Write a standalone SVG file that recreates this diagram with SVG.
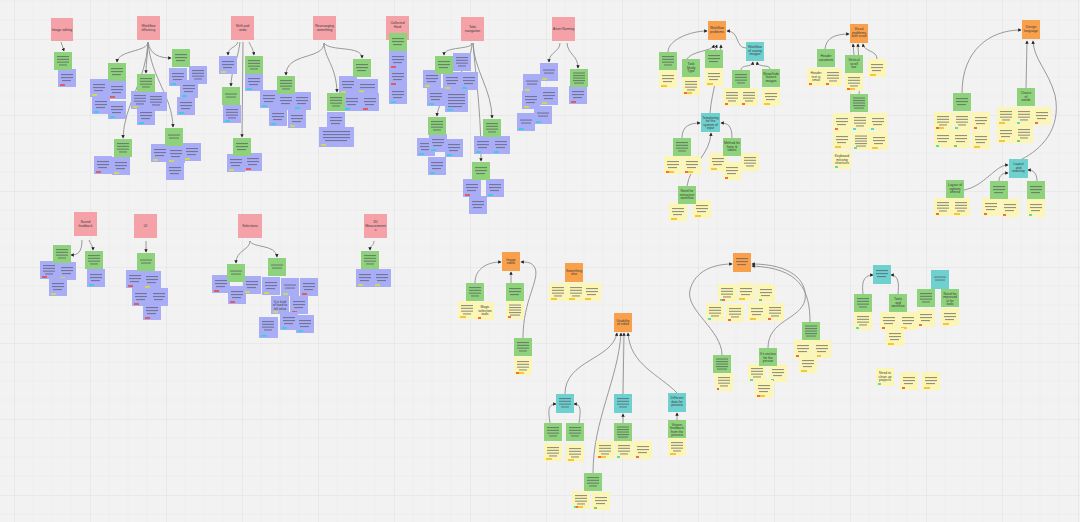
<svg xmlns="http://www.w3.org/2000/svg" xmlns:xlink="http://www.w3.org/1999/xlink" width="1080" height="522" viewBox="0 0 1080 522">
<style>
.pk{fill:#f4a1a8}.gr{fill:#8fd27c}.pu{fill:#a9adf6}.ye{fill:#fcf6b6}.or{fill:#f8a04c}.te{fill:#6fd0d0}
.pk,.gr,.pu,.ye,.or,.te{filter:drop-shadow(0 0.6px 0.7px rgba(0,0,0,.3))}
.bar{fill:#4d4d5c;opacity:.6}
.tr{fill:#ea4b37}.tl{fill:#d5e23b}.tc{fill:#2bd2e2}.to{fill:#f4b81c}.tg{fill:#5cc45c}.tp{fill:#a048c0}
.lb{font-family:"Liberation Sans",Arial,sans-serif;font-size:3.4px;fill:#3a3a3a;text-anchor:middle}
.cn path{fill:none;stroke:#8e8e8e;stroke-width:0.9}
.cn path.a{marker-end:url(#ah)}
</style>
<defs>
<pattern id="grid" patternUnits="userSpaceOnUse" x="14" y="39" width="76" height="76">
<rect width="76" height="76" fill="#f2f2f2"/>
<path d="M19,0V76M38,0V76M57,0V76M0,19H76M0,38H76M0,57H76" stroke="#ebebeb" stroke-width="0.6"/>
<path d="M0,0V76M0,0H76" stroke="#dedede" stroke-width="0.9"/>
</pattern>
<marker id="ah" viewBox="0 0 6 6" refX="5" refY="3" markerWidth="3.4" markerHeight="3.4" markerUnits="userSpaceOnUse" orient="auto"><path d="M0,0L6,3L0,6z" fill="#222"/></marker>
<g id="b2"><rect class="bar" x="3" y="6.5" width="12" height="1.1"/><rect class="bar" x="4" y="9.5" width="10" height="1.1"/></g>
<g id="b3"><rect class="bar" x="3" y="5" width="12" height="1.1"/><rect class="bar" x="3" y="8" width="12" height="1.1"/><rect class="bar" x="4" y="11" width="9" height="1.1"/></g>
<g id="b4"><rect class="bar" x="3" y="4" width="12" height="1.1"/><rect class="bar" x="3" y="6.8" width="12" height="1.1"/><rect class="bar" x="3" y="9.6" width="12" height="1.1"/><rect class="bar" x="5" y="12.4" width="8" height="1.1"/></g>
<g id="b5"><rect class="bar" x="3" y="3.5" width="12" height="1.1"/><rect class="bar" x="3" y="6" width="12" height="1.1"/><rect class="bar" x="3" y="8.5" width="12" height="1.1"/><rect class="bar" x="3" y="11" width="12" height="1.1"/><rect class="bar" x="4" y="13.5" width="10" height="1.1"/></g>
<rect id="S" width="18" height="18"/>
</defs>
<rect width="1080" height="522" fill="url(#grid)"/>

<g id="connectors" class="cn">
<path class="a" d="M61,42L64,51"/>
<path class="a" d="M148,42C148,52 118,50 117,62"/>
<path class="a" d="M148,42C148,55 146,60 146,73"/>
<path class="a" d="M148,42C150,55 160,58 171,58"/>
<path class="a" d="M148,43C146,80 124,105 123,138"/>
<path class="a" d="M148,43C152,80 172,95 173,127"/>
<path class="a" d="M238,42C236,48 228,47 228,55"/>
<path class="a" d="M240,42C238,60 231,70 231,86"/>
<path class="a" d="M249,42C251,47 253,48 254,55"/>
<path class="a" d="M243,42L242,137"/>
<path class="a" d="M324,43C324,60 286,52 286,75"/>
<path class="a" d="M324,43C325,60 336,65 337,92"/>
<path class="a" d="M324,43C330,52 362,45 362,58"/>
<path class="a" d="M472,43C472,50 444,46 444,55"/>
<path class="a" d="M472,43C472,70 438,95 437,116"/>
<path class="a" d="M473,43C474,70 492,90 492,118"/>
<path class="a" d="M473,43C476,80 481,110 481,161"/>
<path class="a" d="M560,43C560,52 549,52 549,62"/>
<path class="a" d="M567,43C568,55 578,55 578,68"/>
<path class="a" d="M82,240C82,252 78,255 71,255"/>
<path class="a" d="M89,240C90,244 93,245 93,250"/>
<path class="a" d="M146,241L146,252"/>
<path class="a" d="M250,241C250,250 236,250 236,263"/>
<path class="a" d="M250,241C252,248 276,244 277,257"/>
<path class="a" d="M374,241C374,246 370,245 370,250"/>
<path class="a" d="M668,52C668,40 690,31 707,31"/>
<path class="a" d="M686,60C692,50 712,52 714,45"/>
<path class="a" d="M715,50L717,45"/>
<path class="a" d="M710,113C712,90 720,70 721,45"/>
<path class="a" d="M746,48C735,48 740,31 727,31"/>
<path class="a" d="M741,70C741,64 752,68 753,62"/>
<path class="a" d="M770,69C770,64 758,68 757,62"/>
<path class="a" d="M682,138C682,126 690,123 700,123"/>
<path class="a" d="M732,138C732,126 728,123 721,123"/>
<path class="a" d="M687,186C690,165 710,155 711,133"/>
<path class="a" d="M825,49C826,38 835,34 849,34"/>
<path class="a" d="M854,55L853,44"/>
<path class="a" d="M859,94C862,75 858,60 858,44"/>
<path class="a" d="M877,59C877,50 864,52 863,44"/>
<path class="a" d="M962,93C962,50 990,30 1021,30"/>
<path class="a" d="M1026,88L1027,41"/>
<path class="a" d="M1022,159C1040,150 1062,130 1055,95C1048,70 1034,60 1033,41"/>
<path class="a" d="M964,190C985,186 995,165 1008,165"/>
<path class="a" d="M999,181C999,175 1003,173 1008,173"/>
<path class="a" d="M1037,181C1037,173 1033,170 1028,170"/>
<path class="a" d="M475,283C475,268 488,262 501,262"/>
<path class="a" d="M511,283L511,272"/>
<path class="a" d="M523,338C523,300 540,280 535,268C532,262 527,262 521,262"/>
<path class="a" d="M565,394C565,360 612,360 617,333"/>
<path class="a" d="M593,473C593,420 618,380 621,333"/>
<path class="a" d="M623,394L624,333"/>
<path class="a" d="M677,393C660,375 630,365 628,333"/>
<path class="a" d="M550,423C548,410 548,404 556,404"/>
<path class="a" d="M579,423C581,410 581,404 574,404"/>
<path class="a" d="M623,423L623,414"/>
<path class="a" d="M677,420L677,413"/>
<path class="a" d="M722,355C722,330 685,310 690,290C695,270 715,264 732,264"/>
<path class="a" d="M768,348C768,320 800,320 805,300C808,280 790,264 752,264"/>
<path class="a" d="M810,322C810,290 800,268 752,266"/>
<path class="a" d="M863,294C862,285 862,275 873,275"/>
<path class="a" d="M898,294C899,285 899,275 891,275"/>
</g>

<!-- pink headers -->
<g id="h1"><rect class="pk" x="51" y="18" width="22" height="23"/><text class="lb" x="62" y="30.5">Image editing</text></g>
<g id="h2"><rect class="pk" x="137" y="16" width="23" height="24"/><text class="lb" x="148.5" y="27">Workflow</text><text class="lb" x="148.5" y="31">efficiency</text></g>
<g id="h3"><rect class="pk" x="231" y="16" width="23" height="24"/><text class="lb" x="242.5" y="27">Shift and</text><text class="lb" x="242.5" y="31">undo</text></g>
<g id="h4"><rect class="pk" x="313" y="16" width="23" height="24"/><text class="lb" x="324.5" y="27">Rearranging</text><text class="lb" x="324.5" y="31">something</text></g>
<g id="h5"><rect class="pk" x="386" y="16" width="23" height="24"/><text class="lb" x="397.5" y="24">Collected</text><text class="lb" x="397.5" y="28">Hard</text></g>
<g id="h6"><rect class="pk" x="461" y="17" width="23" height="24"/><text class="lb" x="472.5" y="28">Tabs</text><text class="lb" x="472.5" y="32">navigation</text></g>
<g id="h7"><rect class="pk" x="552" y="17" width="23" height="24"/><text class="lb" x="563.5" y="30">Asset Naming</text></g>
<g id="h8"><rect class="pk" x="74" y="212" width="23" height="24"/><text class="lb" x="85.5" y="223">Sound</text><text class="lb" x="85.5" y="227">feedback</text></g>
<g id="h9"><rect class="pk" x="134" y="214" width="23" height="24"/><text class="lb" x="145.5" y="227">UI</text></g>
<g id="h10"><rect class="pk" x="238" y="214" width="24" height="24"/><text class="lb" x="250" y="227">Selections</text></g>
<g id="h11"><rect class="pk" x="364" y="214" width="23" height="24"/><text class="lb" x="375.5" y="223">3D</text><text class="lb" x="375.5" y="227">Measurement</text><text class="lb" x="375.5" y="231">s</text></g>

<!-- purple notes -->
<g id="p1" transform="translate(58 69)"><use href="#S" class="pu"/><use href="#b3"/><rect class="tr" x="2" y="15.2" width="5" height="1.6"/></g>
<g id="p2" transform="translate(90 79)"><use href="#S" class="pu"/><use href="#b3"/><rect class="tl" x="2" y="15.2" width="5" height="1.6"/></g>
<g id="p3" transform="translate(108 81)"><use href="#S" class="pu"/><use href="#b3"/><rect class="tr" x="2" y="15.2" width="5" height="1.6"/></g>
<g id="p4" transform="translate(92 96)"><use href="#S" class="pu"/><use href="#b3"/><rect class="tc" x="2" y="15.2" width="5" height="1.6"/></g>
<g id="p5" transform="translate(108 101)"><use href="#S" class="pu"/><use href="#b3"/><rect class="tc" x="2" y="15.2" width="5" height="1.6"/></g>
<g id="p6" transform="translate(131 91)"><use href="#S" class="pu"/><use href="#b4"/><rect class="tl" x="2" y="15.2" width="5" height="1.6"/></g>
<g id="p7" transform="translate(147 92)"><rect class="pu" width="20" height="19"/><use href="#b4"/></g>
<g id="p8" transform="translate(137 107)"><use href="#S" class="pu"/><use href="#b3"/><rect class="tc" x="2" y="15.2" width="5" height="1.6"/></g>
<g id="p9" transform="translate(169 68)"><use href="#S" class="pu"/><use href="#b3"/><rect class="tc" x="2" y="15.2" width="5" height="1.6"/></g>
<g id="p10" transform="translate(189 66)"><use href="#S" class="pu"/><use href="#b4"/></g>
<g id="p11" transform="translate(180 80)"><use href="#S" class="pu"/><use href="#b3"/><rect class="tc" x="2" y="15.2" width="5" height="1.6"/></g>
<g id="p12" transform="translate(177 97)"><use href="#S" class="pu"/><use href="#b3"/><rect class="tc" x="2" y="15.2" width="5" height="1.6"/></g>
<g id="p13" transform="translate(94 156)"><use href="#S" class="pu"/><use href="#b3"/><rect class="tr" x="2" y="15.2" width="5" height="1.6"/></g>
<g id="p14" transform="translate(112 157)"><use href="#S" class="pu"/><use href="#b3"/><rect class="tl" x="2" y="15.2" width="5" height="1.6"/></g>
<g id="p15" transform="translate(151 144)"><use href="#S" class="pu"/><use href="#b3"/><rect class="tl" x="2" y="15.2" width="5" height="1.6"/></g>
<g id="p16" transform="translate(167 145)"><use href="#S" class="pu"/><use href="#b3"/><rect class="tl" x="2" y="15.2" width="5" height="1.6"/></g>
<g id="p17" transform="translate(183 143)"><use href="#S" class="pu"/><use href="#b3"/><rect class="tl" x="2" y="15.2" width="5" height="1.6"/></g>
<g id="p18" transform="translate(166 162)"><use href="#S" class="pu"/><use href="#b3"/></g>
<g id="p19" transform="translate(219 56)"><use href="#S" class="pu"/><use href="#b3"/><rect class="tl" x="2" y="15.2" width="5" height="1.6"/></g>
<g id="p20" transform="translate(223 105)"><use href="#S" class="pu"/><use href="#b4"/><rect class="tc" x="2" y="15.2" width="5" height="1.6"/></g>
<g id="p21" transform="translate(245 73)"><use href="#S" class="pu"/><use href="#b3"/><rect class="tc" x="2" y="15.2" width="5" height="1.6"/></g>
<g id="p22" transform="translate(227 154)"><use href="#S" class="pu"/><use href="#b3"/><rect class="tl" x="2" y="15.2" width="5" height="1.6"/></g>
<g id="p23" transform="translate(244 153)"><use href="#S" class="pu"/><use href="#b3"/><rect class="tr" x="2" y="15.2" width="5" height="1.6"/></g>
<g id="p24" transform="translate(260 90)"><use href="#S" class="pu"/><use href="#b3"/><rect class="tc" x="2" y="15.2" width="5" height="1.6"/></g>
<g id="p25" transform="translate(277 92)"><use href="#S" class="pu"/><use href="#b3"/></g>
<g id="p26" transform="translate(293 92)"><use href="#S" class="pu"/><use href="#b3"/><rect class="tc" x="2" y="15.2" width="5" height="1.6"/></g>
<g id="p27" transform="translate(269 108)"><use href="#S" class="pu"/><use href="#b3"/><rect class="tc" x="2" y="15.2" width="5" height="1.6"/></g>
<g id="p28" transform="translate(288 110)"><use href="#S" class="pu"/><use href="#b3"/><rect class="tl" x="2" y="15.2" width="5" height="1.6"/></g>
<g id="p29" transform="translate(327 112)"><use href="#S" class="pu"/><use href="#b3"/><rect class="tl" x="2" y="15.2" width="5" height="1.6"/></g>
<g id="p30" transform="translate(319 127)"><rect class="pu" width="35" height="20"/><rect class="bar" x="4" y="4" width="27" height="1.1"/><rect class="bar" x="4" y="7" width="27" height="1.1"/><rect class="bar" x="4" y="10" width="27" height="1.1"/><rect class="bar" x="6" y="13" width="22" height="1.1"/><rect class="tl" x="2" y="17" width="5" height="1.6"/></g>
<g id="p31" transform="translate(339 76)"><use href="#S" class="pu"/><use href="#b3"/><rect class="tl" x="2" y="15.2" width="5" height="1.6"/></g>
<g id="p32" transform="translate(357 79)"><rect class="pu" width="21" height="14"/><rect class="bar" x="3" y="5" width="15" height="1.1"/><rect class="bar" x="3" y="8" width="15" height="1.1"/><rect class="tl" x="2" y="11.5" width="5" height="1.6"/></g>
<g id="p33" transform="translate(343 93)"><use href="#S" class="pu"/><use href="#b3"/><rect class="tc" x="2" y="15.2" width="5" height="1.6"/></g>
<g id="p34" transform="translate(361 93)"><use href="#S" class="pu"/><use href="#b3"/><rect class="tr" x="2" y="15.2" width="5" height="1.6"/></g>
<g id="p35" transform="translate(389 51)"><use href="#S" class="pu"/><use href="#b3"/><rect class="tr" x="2" y="15.2" width="5" height="1.6"/></g>
<g id="p36" transform="translate(389 68)"><use href="#S" class="pu"/><use href="#b3"/><rect class="tr" x="2" y="15.2" width="5" height="1.6"/></g>
<g id="p37" transform="translate(389 86)"><use href="#S" class="pu"/><use href="#b3"/><rect class="tc" x="2" y="15.2" width="5" height="1.6"/></g>
<g id="p38" transform="translate(453 53)"><use href="#S" class="pu"/><use href="#b4"/></g>
<g id="p39" transform="translate(423 70)"><use href="#S" class="pu"/><use href="#b3"/><rect class="tl" x="2" y="15.2" width="5" height="1.6"/></g>
<g id="p40" transform="translate(443 72)"><use href="#S" class="pu"/><use href="#b3"/><rect class="tl" x="2" y="15.2" width="5" height="1.6"/></g>
<g id="p41" transform="translate(460 72)"><use href="#S" class="pu"/><use href="#b3"/><rect class="tc" x="2" y="15.2" width="5" height="1.6"/></g>
<g id="p42" transform="translate(427 88)"><use href="#S" class="pu"/><use href="#b3"/><rect class="tc" x="2" y="15.2" width="5" height="1.6"/></g>
<g id="p43" transform="translate(445 90)"><rect class="pu" width="23" height="22"/><rect class="bar" x="3" y="4" width="17" height="1.1"/><rect class="bar" x="3" y="7" width="17" height="1.1"/><rect class="bar" x="3" y="10" width="17" height="1.1"/><rect class="bar" x="3" y="13" width="17" height="1.1"/><rect class="bar" x="3" y="16" width="14" height="1.1"/><rect class="tc" x="2" y="19" width="6" height="1.6"/></g>
<g id="p44" transform="translate(417 138)"><use href="#S" class="pu"/><use href="#b3"/><rect class="tc" x="2" y="15.2" width="5" height="1.6"/></g>
<g id="p45" transform="translate(429 134)"><use href="#S" class="pu"/><use href="#b3"/><rect class="tc" x="2" y="15.2" width="5" height="1.6"/></g>
<g id="p46" transform="translate(445 139)"><use href="#S" class="pu"/><use href="#b3"/><rect class="tc" x="2" y="15.2" width="5" height="1.6"/></g>
<g id="p47" transform="translate(428 157)"><use href="#S" class="pu"/><use href="#b3"/><rect class="tc" x="2" y="15.2" width="5" height="1.6"/></g>
<g id="p48" transform="translate(474 136)"><use href="#S" class="pu"/><use href="#b3"/><rect class="tc" x="2" y="15.2" width="5" height="1.6"/></g>
<g id="p49" transform="translate(492 136)"><use href="#S" class="pu"/><use href="#b3"/><rect class="tc" x="2" y="15.2" width="5" height="1.6"/></g>
<g id="p50" transform="translate(463 179)"><use href="#S" class="pu"/><use href="#b3"/><rect class="tr" x="2" y="15.2" width="5" height="1.6"/></g>
<g id="p51" transform="translate(486 179)"><use href="#S" class="pu"/><use href="#b3"/><rect class="tc" x="2" y="15.2" width="5" height="1.6"/></g>
<g id="p52" transform="translate(469 196)"><use href="#S" class="pu"/><use href="#b3"/></g>
<g id="p53" transform="translate(540 63)"><use href="#S" class="pu"/><use href="#b2"/><rect class="tl" x="2" y="15.2" width="5" height="1.6"/></g>
<g id="p54" transform="translate(523 74)"><use href="#S" class="pu"/><use href="#b2"/><rect class="tl" x="2" y="15.2" width="5" height="1.6"/></g>
<g id="p55" transform="translate(522 91)"><use href="#S" class="pu"/><use href="#b3"/><rect class="tl" x="2" y="15.2" width="5" height="1.6"/></g>
<g id="p56" transform="translate(540 87)"><use href="#S" class="pu"/><use href="#b3"/><rect class="tl" x="2" y="15.2" width="5" height="1.6"/></g>
<g id="p57" transform="translate(517 113)"><use href="#S" class="pu"/><use href="#b2"/><rect class="tc" x="2" y="15.2" width="5" height="1.6"/></g>
<g id="p58" transform="translate(534 106)"><use href="#S" class="pu"/><use href="#b2"/><rect class="tc" x="2" y="15.2" width="5" height="1.6"/></g>
<g id="p59" transform="translate(569 86)"><use href="#S" class="pu"/><use href="#b3"/><rect class="tr" x="2" y="15.2" width="5" height="1.6"/></g>
<g id="p60" transform="translate(40 261)"><use href="#S" class="pu"/><use href="#b4"/><rect class="tr" x="2" y="15.2" width="5" height="1.6"/></g>
<g id="p61" transform="translate(58 262)"><use href="#S" class="pu"/><use href="#b3"/><rect class="tl" x="2" y="15.2" width="5" height="1.6"/></g>
<g id="p62" transform="translate(49 278)"><use href="#S" class="pu"/><use href="#b3"/><rect class="tl" x="2" y="15.2" width="5" height="1.6"/></g>
<g id="p63" transform="translate(87 269)"><use href="#S" class="pu"/><use href="#b3"/><rect class="tc" x="2" y="15.2" width="5" height="1.6"/></g>
<g id="p64" transform="translate(126 270)"><use href="#S" class="pu"/><use href="#b3"/><rect class="tr" x="2" y="15.2" width="5" height="1.6"/></g>
<g id="p65" transform="translate(143 271)"><use href="#S" class="pu"/><use href="#b3"/><rect class="tl" x="2" y="15.2" width="5" height="1.6"/></g>
<g id="p66" transform="translate(132 288)"><use href="#S" class="pu"/><use href="#b3"/><rect class="tr" x="2" y="15.2" width="5" height="1.6"/></g>
<g id="p67" transform="translate(150 288)"><use href="#S" class="pu"/><use href="#b3"/></g>
<g id="p68" transform="translate(143 302)"><use href="#S" class="pu"/><use href="#b3"/><rect class="tr" x="2" y="15.2" width="5" height="1.6"/></g>
<g id="p69" transform="translate(212 275)"><use href="#S" class="pu"/><use href="#b3"/><rect class="tr" x="2" y="15.2" width="5" height="1.6"/></g>
<g id="p70" transform="translate(228 286)"><use href="#S" class="pu"/><use href="#b3"/><rect class="tr" x="2" y="15.2" width="5" height="1.6"/></g>
<g id="p71" transform="translate(243 276)"><use href="#S" class="pu"/><use href="#b3"/><rect class="tl" x="2" y="15.2" width="5" height="1.6"/></g>
<g id="p72" transform="translate(262 277)"><use href="#S" class="pu"/><use href="#b3"/><rect class="tl" x="2" y="15.2" width="5" height="1.6"/></g>
<g id="p73" transform="translate(281 278)"><use href="#S" class="pu"/><use href="#b2"/><rect class="tl" x="2" y="15.2" width="5" height="1.6"/></g>
<g id="p74" transform="translate(300 278)"><use href="#S" class="pu"/><use href="#b3"/><rect class="tr" x="2" y="15.2" width="5" height="1.6"/></g>
<g id="p75" transform="translate(259 317)"><rect class="pu" width="19" height="21"/><use href="#b4"/><rect class="tc" x="2" y="18" width="6" height="1.6"/></g>
<g id="p76" transform="translate(271 296)"><use href="#S" class="pu"/><text class="lb" x="9" y="6.5">It is kind</text><text class="lb" x="9" y="10">of hard to</text><text class="lb" x="9" y="13.5">tell what</text><rect class="tl" x="2" y="15.2" width="5" height="1.6"/></g>
<g id="p77" transform="translate(290 296)"><use href="#S" class="pu"/><use href="#b3"/><rect class="tr" x="2" y="15.2" width="5" height="1.6"/></g>
<g id="p78" transform="translate(280 312)"><use href="#S" class="pu"/><use href="#b3"/><rect class="tc" x="2" y="15.2" width="5" height="1.6"/></g>
<g id="p79" transform="translate(296 315)"><use href="#S" class="pu"/><use href="#b3"/><rect class="tc" x="2" y="15.2" width="5" height="1.6"/></g>
<g id="p80" transform="translate(356 269)"><use href="#S" class="pu"/><use href="#b3"/><rect class="tl" x="2" y="15.2" width="5" height="1.6"/></g>
<g id="p81" transform="translate(373 269)"><use href="#S" class="pu"/><use href="#b3"/><rect class="tl" x="2" y="15.2" width="5" height="1.6"/></g>

<!-- yellow notes -->
<g id="y1" transform="translate(659 70)"><use href="#S" class="ye"/><use href="#b3"/><rect class="to" x="2" y="15.2" width="6" height="1.6"/></g>
<g id="y2" transform="translate(682 77)"><use href="#S" class="ye"/><use href="#b4"/><rect class="tr" x="2" y="15.2" width="3" height="1.6"/><rect class="to" x="5" y="15.2" width="5" height="1.6"/></g>
<g id="y3" transform="translate(705 68)"><use href="#S" class="ye"/><use href="#b3"/><rect class="to" x="2" y="15.2" width="6" height="1.6"/></g>
<g id="y4" transform="translate(723 88)"><use href="#S" class="ye"/><use href="#b4"/><rect class="tr" x="2" y="15.2" width="3" height="1.6"/></g>
<g id="y5" transform="translate(740 88)"><use href="#S" class="ye"/><use href="#b4"/><rect class="tr" x="2" y="15.2" width="3" height="1.6"/></g>
<g id="y6" transform="translate(762 88)"><use href="#S" class="ye"/><use href="#b3"/><rect class="to" x="2" y="15.2" width="6" height="1.6"/></g>
<g id="y7" transform="translate(664 156)"><use href="#S" class="ye"/><use href="#b3"/><rect class="tr" x="2" y="15.2" width="3" height="1.6"/><rect class="to" x="5" y="15.2" width="5" height="1.6"/></g>
<g id="y8" transform="translate(683 156)"><use href="#S" class="ye"/><use href="#b3"/><rect class="tr" x="2" y="15.2" width="3" height="1.6"/><rect class="to" x="5" y="15.2" width="5" height="1.6"/></g>
<g id="y9" transform="translate(709 153)"><use href="#S" class="ye"/><use href="#b3"/><rect class="to" x="2" y="15.2" width="6" height="1.6"/></g>
<g id="y10" transform="translate(741 153)"><use href="#S" class="ye"/><use href="#b4"/></g>
<g id="y11" transform="translate(723 162)"><use href="#S" class="ye"/><use href="#b3"/><rect class="tr" x="2" y="15.2" width="3" height="1.6"/></g>
<g id="y12" transform="translate(669 203)"><use href="#S" class="ye"/><use href="#b3"/><rect class="to" x="2" y="15.2" width="6" height="1.6"/></g>
<g id="y13" transform="translate(693 200)"><use href="#S" class="ye"/><use href="#b3"/><rect class="to" x="2" y="15.2" width="6" height="1.6"/></g>
<g id="y14" transform="translate(807 68)"><use href="#S" class="ye"/><text class="lb" x="9" y="6">Header</text><text class="lb" x="9" y="9.5">text is</text><text class="lb" x="9" y="13">small</text><rect class="tr" x="2" y="15.2" width="3" height="1.6"/></g>
<g id="y15" transform="translate(824 68)"><use href="#S" class="ye"/><use href="#b4"/><rect class="tr" x="2" y="15.2" width="3" height="1.6"/></g>
<g id="y16" transform="translate(845 73)"><use href="#S" class="ye"/><use href="#b4"/><rect class="tr" x="2" y="15.2" width="3" height="1.6"/><rect class="to" x="5" y="15.2" width="5" height="1.6"/></g>
<g id="y17" transform="translate(868 59)"><use href="#S" class="ye"/><use href="#b3"/><rect class="to" x="2" y="15.2" width="6" height="1.6"/></g>
<g id="y18" transform="translate(833 113)"><use href="#S" class="ye"/><use href="#b3"/><rect class="tr" x="2" y="15.2" width="3" height="1.6"/></g>
<g id="y19" transform="translate(851 113)"><use href="#S" class="ye"/><use href="#b4"/><rect class="tc" x="2" y="15.2" width="3" height="1.6"/></g>
<g id="y20" transform="translate(869 113)"><use href="#S" class="ye"/><use href="#b3"/><rect class="tc" x="2" y="15.2" width="3" height="1.6"/></g>
<g id="y21" transform="translate(833 131)"><use href="#S" class="ye"/><use href="#b3"/><rect class="to" x="2" y="15.2" width="6" height="1.6"/></g>
<g id="y22" transform="translate(852 132)"><use href="#S" class="ye"/><use href="#b5"/><rect class="tc" x="2" y="15.2" width="3" height="1.6"/></g>
<g id="y23" transform="translate(870 132)"><use href="#S" class="ye"/><use href="#b3"/><rect class="to" x="2" y="15.2" width="6" height="1.6"/></g>
<g id="y24" transform="translate(833 151)"><use href="#S" class="ye"/><text class="lb" x="9" y="6">Keyboard</text><text class="lb" x="9" y="9.5">missing</text><text class="lb" x="9" y="13">shortcuts</text><rect class="tc" x="2" y="15.2" width="3" height="1.6"/></g>
<g id="y25" transform="translate(934 112)"><use href="#S" class="ye"/><use href="#b4"/><rect class="tr" x="2" y="15.2" width="3" height="1.6"/><rect class="to" x="5" y="15.2" width="5" height="1.6"/></g>
<g id="y26" transform="translate(953 112)"><use href="#S" class="ye"/><use href="#b4"/><rect class="tc" x="2" y="15.2" width="3" height="1.6"/></g>
<g id="y27" transform="translate(972 112)"><use href="#S" class="ye"/><use href="#b3"/><rect class="tr" x="2" y="15.2" width="3" height="1.6"/></g>
<g id="y28" transform="translate(934 130)"><use href="#S" class="ye"/><use href="#b3"/><rect class="tc" x="2" y="15.2" width="3" height="1.6"/></g>
<g id="y29" transform="translate(952 130)"><use href="#S" class="ye"/><use href="#b3"/><rect class="tg" x="2" y="15.2" width="3" height="1.6"/></g>
<g id="y30" transform="translate(972 131)"><use href="#S" class="ye"/><use href="#b3"/><rect class="to" x="2" y="15.2" width="6" height="1.6"/></g>
<g id="y31" transform="translate(997 107)"><use href="#S" class="ye"/><use href="#b4"/><rect class="to" x="2" y="15.2" width="6" height="1.6"/></g>
<g id="y32" transform="translate(1015 107)"><use href="#S" class="ye"/><use href="#b4"/><rect class="tc" x="2" y="15.2" width="3" height="1.6"/></g>
<g id="y33" transform="translate(1033 107)"><use href="#S" class="ye"/><use href="#b3"/><rect class="tr" x="2" y="15.2" width="3" height="1.6"/></g>
<g id="y34" transform="translate(997 125)"><use href="#S" class="ye"/><use href="#b3"/><rect class="to" x="2" y="15.2" width="6" height="1.6"/></g>
<g id="y35" transform="translate(1015 125)"><use href="#S" class="ye"/><use href="#b4"/><rect class="tg" x="2" y="15.2" width="3" height="1.6"/></g>
<g id="y36" transform="translate(934 198)"><use href="#S" class="ye"/><use href="#b4"/><rect class="tr" x="2" y="15.2" width="3" height="1.6"/></g>
<g id="y37" transform="translate(952 198)"><use href="#S" class="ye"/><use href="#b4"/><rect class="to" x="2" y="15.2" width="6" height="1.6"/></g>
<g id="y38" transform="translate(982 198)"><use href="#S" class="ye"/><use href="#b3"/><rect class="tr" x="2" y="15.2" width="3" height="1.6"/></g>
<g id="y39" transform="translate(1001 199)"><use href="#S" class="ye"/><use href="#b3"/><rect class="tr" x="2" y="15.2" width="3" height="1.6"/></g>
<g id="y40" transform="translate(1027 199)"><use href="#S" class="ye"/><use href="#b3"/><rect class="tc" x="2" y="15.2" width="3" height="1.6"/></g>
<g id="y41" transform="translate(458 301)"><use href="#S" class="ye"/><use href="#b4"/><rect class="to" x="2" y="15.2" width="6" height="1.6"/></g>
<g id="y42" transform="translate(476 302)"><use href="#S" class="ye"/><text class="lb" x="9" y="6">Magic</text><text class="lb" x="9" y="9.5">selection</text><text class="lb" x="9" y="13">tools</text><rect class="tr" x="2" y="15.2" width="3" height="1.6"/></g>
<g id="y43" transform="translate(506 301)"><use href="#S" class="ye"/><use href="#b5"/><rect class="tr" x="2" y="15.2" width="3" height="1.6"/></g>
<g id="y44" transform="translate(514 357)"><use href="#S" class="ye"/><use href="#b4"/><rect class="tr" x="2" y="15.2" width="3" height="1.6"/><rect class="to" x="5" y="15.2" width="5" height="1.6"/></g>
<g id="y45" transform="translate(549 283)"><use href="#S" class="ye"/><use href="#b4"/><rect class="to" x="2" y="15.2" width="6" height="1.6"/></g>
<g id="y46" transform="translate(567 283)"><use href="#S" class="ye"/><use href="#b4"/><rect class="to" x="2" y="15.2" width="6" height="1.6"/></g>
<g id="y47" transform="translate(583 283)"><use href="#S" class="ye"/><use href="#b3"/><rect class="to" x="2" y="15.2" width="6" height="1.6"/></g>
<g id="y48" transform="translate(544 443)"><use href="#S" class="ye"/><use href="#b4"/><rect class="to" x="2" y="15.2" width="6" height="1.6"/></g>
<g id="y49" transform="translate(566 444)"><use href="#S" class="ye"/><use href="#b4"/><rect class="to" x="2" y="15.2" width="6" height="1.6"/></g>
<g id="y50" transform="translate(596 441)"><use href="#S" class="ye"/><use href="#b4"/><rect class="tr" x="2" y="15.2" width="3" height="1.6"/><rect class="to" x="5" y="15.2" width="5" height="1.6"/></g>
<g id="y51" transform="translate(615 441)"><use href="#S" class="ye"/><use href="#b4"/><rect class="tc" x="2" y="15.2" width="3" height="1.6"/></g>
<g id="y52" transform="translate(634 441)"><use href="#S" class="ye"/><use href="#b3"/><rect class="tr" x="2" y="15.2" width="3" height="1.6"/></g>
<g id="y53" transform="translate(668 438)"><use href="#S" class="ye"/><use href="#b4"/><rect class="to" x="2" y="15.2" width="6" height="1.6"/></g>
<g id="y54" transform="translate(572 491)"><use href="#S" class="ye"/><use href="#b4"/><rect class="tc" x="2" y="15.2" width="2" height="1.6"/><rect class="tr" x="4" y="15.2" width="2" height="1.6"/><rect class="to" x="6" y="15.2" width="5" height="1.6"/></g>
<g id="y55" transform="translate(592 492)"><use href="#S" class="ye"/><use href="#b3"/><rect class="tg" x="2" y="15.2" width="3" height="1.6"/></g>
<g id="y56" transform="translate(718 284)"><use href="#S" class="ye"/><use href="#b4"/><rect class="tc" x="2" y="15.2" width="2" height="1.6"/><rect class="tr" x="4" y="15.2" width="3" height="1.6"/></g>
<g id="y57" transform="translate(737 283)"><use href="#S" class="ye"/><use href="#b3"/><rect class="to" x="2" y="15.2" width="6" height="1.6"/></g>
<g id="y58" transform="translate(757 284)"><use href="#S" class="ye"/><use href="#b3"/><rect class="tg" x="2" y="15.2" width="3" height="1.6"/></g>
<g id="y59" transform="translate(706 303)"><use href="#S" class="ye"/><use href="#b4"/><rect class="tc" x="2" y="15.2" width="3" height="1.6"/></g>
<g id="y60" transform="translate(726 304)"><use href="#S" class="ye"/><use href="#b4"/><rect class="tr" x="2" y="15.2" width="3" height="1.6"/></g>
<g id="y61" transform="translate(748 303)"><use href="#S" class="ye"/><use href="#b3"/><rect class="to" x="2" y="15.2" width="6" height="1.6"/></g>
<g id="y62" transform="translate(766 303)"><use href="#S" class="ye"/><use href="#b4"/><rect class="tr" x="2" y="15.2" width="3" height="1.6"/></g>
<g id="y63" transform="translate(715 373)"><use href="#S" class="ye"/><use href="#b4"/><rect class="tp" x="2" y="15.2" width="2" height="1.6"/></g>
<g id="y64" transform="translate(748 364)"><use href="#S" class="ye"/><use href="#b4"/><rect class="tc" x="2" y="15.2" width="3" height="1.6"/></g>
<g id="y65" transform="translate(769 364)"><use href="#S" class="ye"/><use href="#b3"/><rect class="tc" x="2" y="15.2" width="3" height="1.6"/></g>
<g id="y66" transform="translate(755 380)"><use href="#S" class="ye"/><use href="#b3"/><rect class="tr" x="2" y="15.2" width="3" height="1.6"/><rect class="to" x="5" y="15.2" width="5" height="1.6"/></g>
<g id="y67" transform="translate(794 340)"><use href="#S" class="ye"/><use href="#b3"/><rect class="tr" x="2" y="15.2" width="3" height="1.6"/></g>
<g id="y68" transform="translate(813 340)"><use href="#S" class="ye"/><use href="#b3"/><rect class="to" x="2" y="15.2" width="6" height="1.6"/></g>
<g id="y69" transform="translate(799 355)"><use href="#S" class="ye"/><use href="#b3"/><rect class="to" x="2" y="15.2" width="6" height="1.6"/></g>
<g id="y70" transform="translate(854 312)"><use href="#S" class="ye"/><use href="#b4"/><rect class="tc" x="2" y="15.2" width="3" height="1.6"/></g>
<g id="y71" transform="translate(880 312)"><use href="#S" class="ye"/><use href="#b3"/><rect class="tr" x="2" y="15.2" width="3" height="1.6"/></g>
<g id="y72" transform="translate(899 312)"><use href="#S" class="ye"/><use href="#b3"/><rect class="to" x="2" y="15.2" width="6" height="1.6"/></g>
<g id="y73" transform="translate(886 328)"><use href="#S" class="ye"/><use href="#b3"/><rect class="to" x="2" y="15.2" width="6" height="1.6"/></g>
<g id="y74" transform="translate(917 309)"><use href="#S" class="ye"/><use href="#b3"/><rect class="tr" x="2" y="15.2" width="3" height="1.6"/></g>
<g id="y75" transform="translate(941 308)"><use href="#S" class="ye"/><use href="#b3"/><rect class="to" x="2" y="15.2" width="6" height="1.6"/></g>
<g id="y76" transform="translate(876 368)"><use href="#S" class="ye"/><text class="lb" x="9" y="6">Need to</text><text class="lb" x="9" y="9.5">clean up</text><text class="lb" x="9" y="13">projects</text><rect class="tc" x="2" y="15.2" width="3" height="1.6"/></g>
<g id="y77" transform="translate(900 372)"><use href="#S" class="ye"/><use href="#b3"/><rect class="tr" x="2" y="15.2" width="3" height="1.6"/></g>
<g id="y78" transform="translate(922 372)"><use href="#S" class="ye"/><use href="#b3"/><rect class="to" x="2" y="15.2" width="6" height="1.6"/></g>

<!-- green notes -->
<g id="g1" transform="translate(54 52)"><use href="#S" class="gr"/><use href="#b4"/></g>
<g id="g2" transform="translate(108 63)"><use href="#S" class="gr"/><use href="#b3"/></g>
<g id="g3" transform="translate(137 74)"><use href="#S" class="gr"/><use href="#b4"/></g>
<g id="g4" transform="translate(172 49)"><use href="#S" class="gr"/><use href="#b3"/></g>
<g id="g5" transform="translate(114 139)"><use href="#S" class="gr"/><use href="#b4"/></g>
<g id="g6" transform="translate(165 128)"><use href="#S" class="gr"/><use href="#b2"/></g>
<g id="g7" transform="translate(222 87)"><use href="#S" class="gr"/><use href="#b2"/></g>
<g id="g8" transform="translate(245 56)"><use href="#S" class="gr"/><use href="#b4"/></g>
<g id="g9" transform="translate(233 138)"><use href="#S" class="gr"/><use href="#b3"/></g>
<g id="g10" transform="translate(277 76)"><use href="#S" class="gr"/><use href="#b4"/></g>
<g id="g11" transform="translate(327 93)"><use href="#S" class="gr"/><use href="#b4"/></g>
<g id="g12" transform="translate(353 59)"><use href="#S" class="gr"/><use href="#b3"/></g>
<g id="g13" transform="translate(389 33)"><use href="#S" class="gr"/><use href="#b3"/></g>
<g id="g14" transform="translate(435 56)"><use href="#S" class="gr"/><use href="#b3"/></g>
<g id="g15" transform="translate(428 117)"><use href="#S" class="gr"/><use href="#b4"/></g>
<g id="g16" transform="translate(483 119)"><use href="#S" class="gr"/><use href="#b4"/></g>
<g id="g17" transform="translate(472 162)"><use href="#S" class="gr"/><use href="#b3"/></g>
<g id="g18" transform="translate(570 69)"><use href="#S" class="gr"/><use href="#b5"/></g>
<g id="g19" transform="translate(53 245)"><use href="#S" class="gr"/><use href="#b4"/></g>
<g id="g20" transform="translate(85 251)"><use href="#S" class="gr"/><use href="#b4"/></g>
<g id="g21" transform="translate(137 253)"><use href="#S" class="gr"/><use href="#b2"/></g>
<g id="g22" transform="translate(227 264)"><use href="#S" class="gr"/><use href="#b2"/></g>
<g id="g23" transform="translate(268 258)"><use href="#S" class="gr"/><use href="#b2"/></g>
<g id="g24" transform="translate(361 251)"><use href="#S" class="gr"/><use href="#b4"/></g>
<g id="g25" transform="translate(659 52)"><use href="#S" class="gr"/><use href="#b4"/></g>
<g id="g26" transform="translate(682 59)"><use href="#S" class="gr"/><text class="lb" x="9" y="6">Task</text><text class="lb" x="9" y="9.5">Study</text><text class="lb" x="9" y="13">Type</text></g>
<g id="g27" transform="translate(705 50)"><use href="#S" class="gr"/><use href="#b3"/></g>
<g id="g28" transform="translate(732 70)"><use href="#S" class="gr"/><use href="#b4"/></g>
<g id="g29" transform="translate(762 69)"><use href="#S" class="gr"/><text class="lb" x="9" y="5.5">Show/hide</text><text class="lb" x="9" y="9">feature</text><text class="lb" x="9" y="12.5">images</text></g>
<g id="g30" transform="translate(673 138)"><use href="#S" class="gr"/><use href="#b4"/></g>
<g id="g31" transform="translate(723 138)"><use href="#S" class="gr"/><text class="lb" x="9" y="6">Method for</text><text class="lb" x="9" y="9.5">fonts &amp;</text><text class="lb" x="9" y="13">tables</text></g>
<g id="g32" transform="translate(678 186)"><use href="#S" class="gr"/><text class="lb" x="9" y="6">Need for</text><text class="lb" x="9" y="9.5">extraction</text><text class="lb" x="9" y="13">workflow</text></g>
<g id="g33" transform="translate(817 49)"><use href="#S" class="gr"/><text class="lb" x="9" y="8">Header</text><text class="lb" x="9" y="11.5">variations</text></g>
<g id="g34" transform="translate(845 55)"><use href="#S" class="gr"/><text class="lb" x="9" y="6">Vertical</text><text class="lb" x="9" y="9.5">scroll</text><text class="lb" x="9" y="13">bar</text></g>
<g id="g35" transform="translate(850 94)"><use href="#S" class="gr"/><use href="#b5"/></g>
<g id="g36" transform="translate(953 93)"><use href="#S" class="gr"/><use href="#b3"/></g>
<g id="g37" transform="translate(1017 88)"><use href="#S" class="gr"/><text class="lb" x="9" y="6">Choice</text><text class="lb" x="9" y="9.5">of</text><text class="lb" x="9" y="13">words</text></g>
<g id="g38" transform="translate(946 180)"><use href="#S" class="gr"/><text class="lb" x="9" y="6">Layout of</text><text class="lb" x="9" y="9.5">options</text><text class="lb" x="9" y="13">offered</text></g>
<g id="g39" transform="translate(990 181)"><use href="#S" class="gr"/><use href="#b3"/></g>
<g id="g40" transform="translate(1027 181)"><use href="#S" class="gr"/><use href="#b3"/></g>
<g id="g41" transform="translate(466 283)"><use href="#S" class="gr"/><use href="#b4"/></g>
<g id="g42" transform="translate(506 283)"><use href="#S" class="gr"/><use href="#b3"/></g>
<g id="g43" transform="translate(514 338)"><use href="#S" class="gr"/><use href="#b4"/></g>
<g id="g44" transform="translate(544 423)"><use href="#S" class="gr"/><use href="#b4"/></g>
<g id="g45" transform="translate(566 423)"><use href="#S" class="gr"/><use href="#b4"/></g>
<g id="g46" transform="translate(614 423)"><use href="#S" class="gr"/><use href="#b5"/></g>
<g id="g47" transform="translate(668 420)"><use href="#S" class="gr"/><text class="lb" x="9" y="5.5">Viewer</text><text class="lb" x="9" y="9">feedback</text><text class="lb" x="9" y="12.5">from the</text><text class="lb" x="9" y="16">preview</text></g>
<g id="g48" transform="translate(584 473)"><use href="#S" class="gr"/><use href="#b4"/></g>
<g id="g49" transform="translate(713 355)"><use href="#S" class="gr"/><use href="#b5"/></g>
<g id="g50" transform="translate(759 348)"><use href="#S" class="gr"/><text class="lb" x="9" y="7">It's unclear</text><text class="lb" x="9" y="10.5">for the</text><text class="lb" x="9" y="14">person</text></g>
<g id="g51" transform="translate(802 322)"><use href="#S" class="gr"/><use href="#b5"/></g>
<g id="g52" transform="translate(854 294)"><use href="#S" class="gr"/><use href="#b4"/></g>
<g id="g53" transform="translate(889 294)"><use href="#S" class="gr"/><text class="lb" x="9" y="6">Tools</text><text class="lb" x="9" y="9.5">and</text><text class="lb" x="9" y="13">workflow</text></g>
<g id="g54" transform="translate(917 289)"><use href="#S" class="gr"/><use href="#b4"/></g>
<g id="g55" transform="translate(941 289)"><use href="#S" class="gr"/><text class="lb" x="9" y="5.5">Need for</text><text class="lb" x="9" y="9">improved</text><text class="lb" x="9" y="12.5">ui for</text><text class="lb" x="9" y="16">tools</text></g>

<!-- orange headers -->
<g id="o1"><rect class="or" x="708" y="21" width="18" height="19"/><text class="lb" x="717" y="29">Workflow</text><text class="lb" x="717" y="32.5">problems</text></g>
<g id="o2"><rect class="or" x="850" y="24" width="18" height="19"/><text class="lb" x="859" y="30">Visual</text><text class="lb" x="859" y="33.5">problems</text><text class="lb" x="859" y="37">with scroll</text></g>
<g id="o3"><rect class="or" x="1022" y="20" width="18" height="19"/><text class="lb" x="1031" y="28">Design</text><text class="lb" x="1031" y="31.5">language</text></g>
<g id="o4"><rect class="or" x="502" y="252" width="18" height="19"/><text class="lb" x="511" y="260.5">Image</text><text class="lb" x="511" y="264">editor</text></g>
<g id="o5"><rect class="or" x="565" y="263" width="18" height="19"/><text class="lb" x="574" y="271.5">Something</text><text class="lb" x="574" y="275">else</text></g>
<g id="o6"><rect class="or" x="614" y="313" width="18" height="19"/><text class="lb" x="623" y="321.5">Usability</text><text class="lb" x="623" y="325">of video</text></g>
<g id="o7" transform="translate(733 253)"><rect class="or" width="18" height="19"/><use href="#b3"/></g>

<!-- teal subheaders -->
<g id="t1"><rect class="te" x="746" y="42" width="18" height="19"/><text class="lb" x="755" y="48">Workflow</text><text class="lb" x="755" y="51.5">of saving</text><text class="lb" x="755" y="55">images</text></g>
<g id="t2"><rect class="te" x="701" y="113" width="19" height="19"/><text class="lb" x="710.5" y="118.5">Templating</text><text class="lb" x="710.5" y="122">for the</text><text class="lb" x="710.5" y="125.5">system of</text><text class="lb" x="710.5" y="129">input</text></g>
<g id="t3"><rect class="te" x="1009" y="159" width="19" height="19"/><text class="lb" x="1018.5" y="165">Layout</text><text class="lb" x="1018.5" y="168.5">and</text><text class="lb" x="1018.5" y="172">ordering</text></g>
<g id="t4" transform="translate(556 394)"><rect class="te" width="18" height="19"/><use href="#b4"/></g>
<g id="t5" transform="translate(614 394)"><rect class="te" width="18" height="19"/><use href="#b4"/></g>
<g id="t6"><rect class="te" x="668" y="393" width="18" height="19"/><text class="lb" x="677" y="399">Different</text><text class="lb" x="677" y="402.5">data for</text><text class="lb" x="677" y="406">preview</text></g>
<g id="t7" transform="translate(873 265)"><rect class="te" width="18" height="19"/><use href="#b3"/></g>
<g id="t8" transform="translate(931 270)"><rect class="te" width="18" height="19"/><use href="#b2"/></g>
</svg>
